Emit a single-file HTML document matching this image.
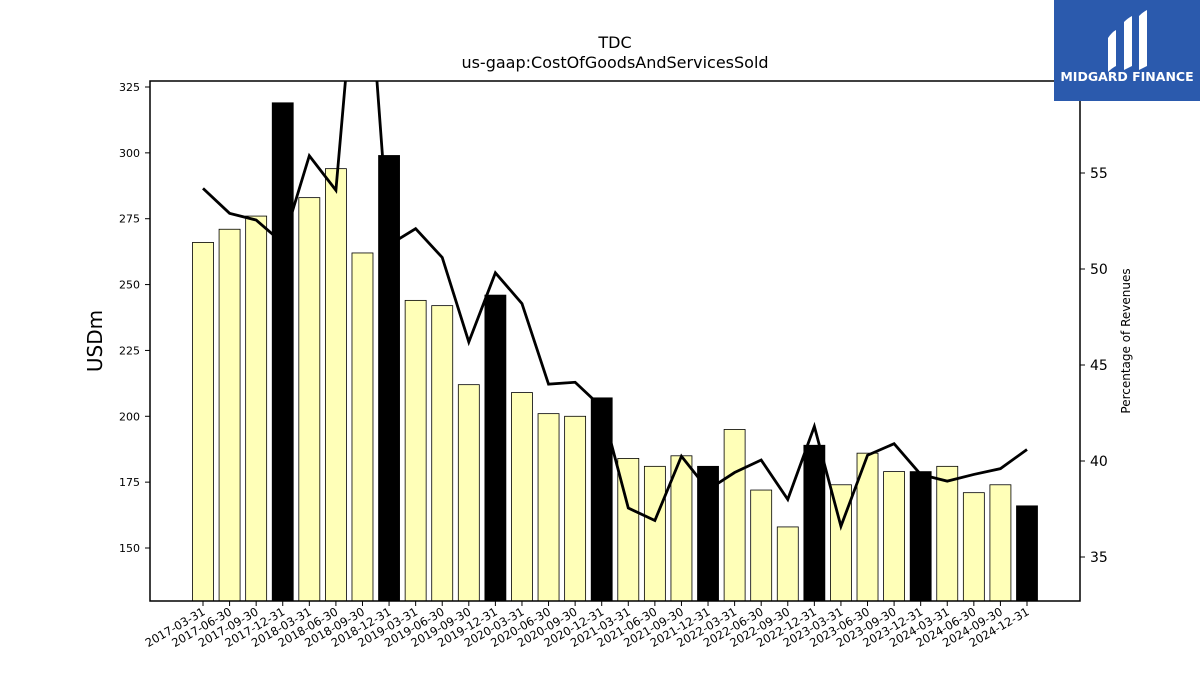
<!DOCTYPE html>
<html><head><meta charset="utf-8"><style>
body{margin:0;background:#fff;width:1200px;height:675px;overflow:hidden;font-family:"Liberation Sans","DejaVu Sans",sans-serif}
svg text{font-family:"DejaVu Sans","Liberation Sans",sans-serif}
</style></head><body>
<svg id="chart" width="1200" height="675">
<text x="615" y="48" font-size="16" text-anchor="middle">TDC</text>
<text x="615" y="68" font-size="16" text-anchor="middle">us-gaap:CostOfGoodsAndServicesSold</text>
<g id="bars"></g>
<g id="line"></g>
<rect x="150" y="81" width="930" height="520" fill="none" stroke="#000" stroke-width="1.5"/>
<g id="axes"></g>
<text transform="translate(102,341) rotate(-90)" font-size="20" text-anchor="middle">USDm</text>
<text transform="translate(1130,341) rotate(-90)" font-size="12" text-anchor="middle">Percentage of Revenues</text>
<g>
<rect x="1054" y="0" width="146" height="101" fill="#2b5aad"/>
<path d="M1108,38 q4,-6 8,-8 v36 q-4,2 -8,6z M1124,22 q4,-4 8,-6 v50 l-8,4z M1139,16 q4,-4 8,-6 v56 l-8,4z" fill="#fff"/>
<text x="1127" y="81" font-size="12.5" font-weight="bold" fill="#fff" text-anchor="middle">MIDGARD FINANCE</text>
</g>
</svg>
<script>
const categories=["2017-03-31","2017-06-30","2017-09-30","2017-12-31","2018-03-31","2018-06-30","2018-09-30","2018-12-31","2019-03-31","2019-06-30","2019-09-30","2019-12-31","2020-03-31","2020-06-30","2020-09-30","2020-12-31","2021-03-31","2021-06-30","2021-09-30","2021-12-31","2022-03-31","2022-06-30","2022-09-30","2022-12-31","2023-03-31","2023-06-30","2023-09-30","2023-12-31","2024-03-31","2024-06-30","2024-09-30","2024-12-31"];
const costValues=[266,271,276,319,283,294,262,299,244,242,212,246,209,201,200,207,184,181,185,181,195,172,158,189,174,186,179,179,181,171,174,166];
const pctValues=[54.2,52.9,52.55,51.35,55.9,54.1,70,51.25,52.1,50.6,46.2,49.8,48.2,44.0,44.1,42.8,37.55,36.9,40.25,38.5,39.4,40.05,38.0,41.8,36.6,40.3,40.9,39.3,38.95,39.3,39.6,40.6];
const leftTicks=[150,175,200,225,250,275,300,325];
const rightTicks=[35,40,45,50,55];
const NS="http://www.w3.org/2000/svg";
const X0=150,X1=1080,Y0=81,Y1=601;
function xPos(i){return 203+i*(1027-203)/(categories.length-1);}
function yL(v){return 548-(v-150)*(548-87)/175;}
function yR(v){return 557-(v-35)*(557-173)/20;}
function mk(tag,attrs,parent){const e=document.createElementNS(NS,tag);for(const k in attrs)e.setAttribute(k,attrs[k]);parent.appendChild(e);return e;}
const bars=document.getElementById('bars'),line=document.getElementById('line'),axes=document.getElementById('axes');
costValues.forEach((v,i)=>{
 const top=yL(v);
 const r=mk('rect',{x:xPos(i)-10.5,y:top,width:21,height:Y1-top,fill:(i%4===3)?'#000':'#ffffb8',stroke:'#000','stroke-width':0.8},bars);
 
 
});
const clip=mk('clipPath',{id:'pc'},document.getElementById('chart'));
mk('rect',{x:X0,y:Y0,width:X1-X0,height:Y1-Y0},clip);
const pts=pctValues.map((v,i)=>xPos(i)+','+yR(v)).join(' ');
const pl=mk('polyline',{points:pts,fill:'none',stroke:'#000','stroke-width':2.8,'clip-path':'url(#pc)'},line);


leftTicks.forEach(t=>{const y=yL(t);
 mk('line',{x1:X0-5,x2:X0,y1:y,y2:y,stroke:'#000'},axes);
 const tx=mk('text',{x:X0-10,y:y+4,'font-size':11,'text-anchor':'end'},axes);tx.textContent=t;
 
 });
rightTicks.forEach(t=>{const y=yR(t);
 mk('line',{x1:X1,x2:X1+5,y1:y,y2:y,stroke:'#000'},axes);
 const tx=mk('text',{x:X1+10,y:y+5,'font-size':14},axes);tx.textContent=t;
 
 });
categories.forEach((c,i)=>{const x=xPos(i);
 mk('line',{x1:x,x2:x,y1:Y1,y2:Y1+5,stroke:'#000'},axes);
 const tx=mk('text',{transform:`translate(${x+3},${Y1+13}) rotate(-30)`,'font-size':11.5,'text-anchor':'end'},axes);tx.textContent=c;
 
 });
</script>
</body></html>
